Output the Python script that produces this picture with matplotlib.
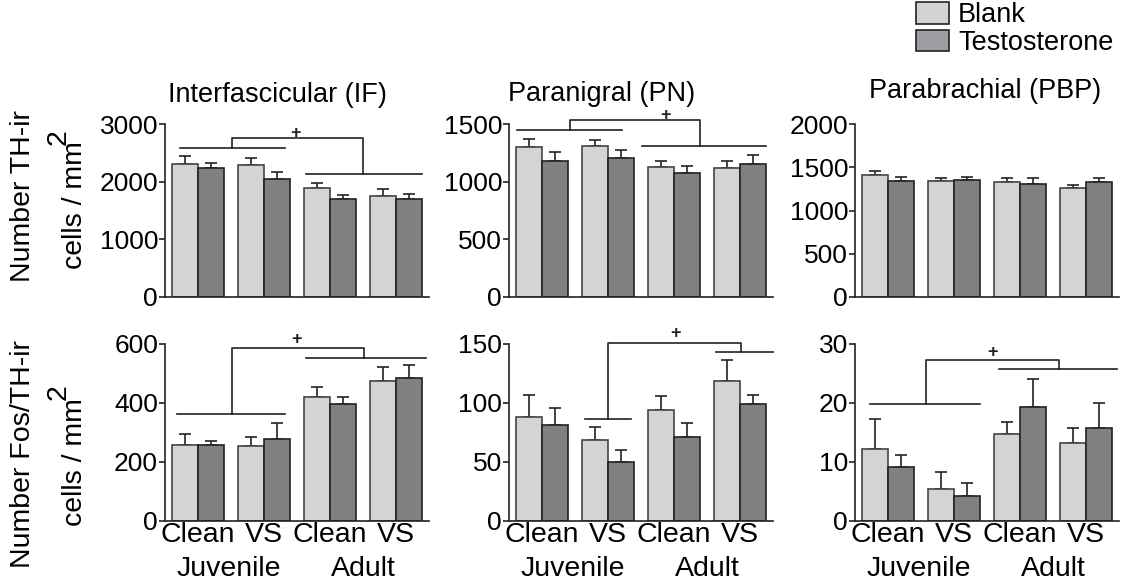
import numpy as np
import matplotlib
matplotlib.use('Agg')
import matplotlib.pyplot as plt
from matplotlib.patches import Patch

plt.rcParams['font.family'] = ['Liberation Sans', 'DejaVu Sans']

groups = ['Clean', 'VS', 'Clean', 'VS']
ages = ['Juvenile', 'Adult']
titles = ['Interfascicular (IF)', 'Paranigral (PN)', 'Parabrachial (PBP)']

# top row: Number TH-ir cells / mm2  (mean, top of error bar)
if_th_blank = [2300, 2290, 1890, 1755]
if_th_blank_err = [2450, 2415, 1980, 1865]
if_th_testo = [2235, 2040, 1705, 1700]
if_th_testo_err = [2330, 2165, 1775, 1790]

pn_th_blank = [1302, 1311, 1130, 1115]
pn_th_blank_err = [1367, 1361, 1180, 1180]
pn_th_testo = [1183, 1201, 1077, 1154]
pn_th_testo_err = [1260, 1272, 1136, 1228]

pbp_th_blank = [1408, 1336, 1328, 1260]
pbp_th_blank_err = [1454, 1374, 1374, 1298]
pbp_th_testo = [1344, 1351, 1309, 1328]
pbp_th_testo_err = [1382, 1393, 1374, 1374]

# bottom row: Number Fos/TH-ir cells / mm2
if_fos_blank = [255, 252, 419, 473]
if_fos_blank_err = [293, 283, 452, 521]
if_fos_testo = [255, 277, 396, 483]
if_fos_testo_err = [269, 331, 418, 527]

pn_fos_blank = [88, 68, 94, 118]
pn_fos_blank_err = [106, 79.5, 105.5, 136]
pn_fos_testo = [81, 49.5, 71, 98.5]
pn_fos_testo_err = [95, 60, 83, 106]

pbp_fos_blank = [12.2, 5.4, 14.6, 13.2]
pbp_fos_blank_err = [17.2, 8.2, 16.7, 15.7]
pbp_fos_testo = [9.1, 4.1, 19.2, 15.6]
pbp_fos_testo_err = [11.1, 6.3, 24.0, 20.0]

top_ticks = [[0, 1000, 2000, 3000], [0, 500, 1000, 1500], [0, 500, 1000, 1500, 2000]]
bot_ticks = [[0, 200, 400, 600], [0, 50, 100, 150], [0, 10, 20, 30]]

# significance brackets: (left line y, x0, x1, x vertical), top y, (right ...), plus (x, y)
if_th_sig = [(2586, -0.27, 1.32, 0.52), 2751, (2130, 1.64, 3.4, 2.5), (1.47, 2840)]
pn_th_sig = [(1450, -0.38, 1.21, 0.43), 1539, (1308, 1.52, 3.4, 2.39), (1.87, 1570)]
if_fos_sig = [(362, -0.32, 1.32, 0.52), 585, (552, 1.63, 3.45, 2.52), (1.5, 615)]
pn_fos_sig = [(86.3, 0.65, 1.35, 1.0), 150.6, (143, 2.64, 3.5, 3.02), (2.02, 158.5)]
pbp_fos_sig = [(19.7, -0.27, 1.39, 0.58), 27.2, (25.6, 1.68, 3.47, 2.59), (1.58, 28.5)]

top_data = [(if_th_blank, if_th_blank_err, if_th_testo, if_th_testo_err, if_th_sig),
            (pn_th_blank, pn_th_blank_err, pn_th_testo, pn_th_testo_err, pn_th_sig),
            (pbp_th_blank, pbp_th_blank_err, pbp_th_testo, pbp_th_testo_err, None)]
bot_data = [(if_fos_blank, if_fos_blank_err, if_fos_testo, if_fos_testo_err, if_fos_sig),
            (pn_fos_blank, pn_fos_blank_err, pn_fos_testo, pn_fos_testo_err, pn_fos_sig),
            (pbp_fos_blank, pbp_fos_blank_err, pbp_fos_testo, pbp_fos_testo_err, pbp_fos_sig)]

c_blank = '#d4d4d4'
c_testo = '#808080'
c_line = '#222222'

W, H = 1125, 586
fig = plt.figure(figsize=(W / 100, H / 100), dpi=100)

lefts = [165, 509, 855]
pw = 264


def draw_panel(ax, blank, blank_err, testo, testo_err, sig, ticks):
    x = np.arange(len(groups))
    w = 0.395
    blank = np.array(blank)
    testo = np.array(testo)
    ax.bar(x - w / 2, blank, w, color=c_blank, edgecolor='#444444', linewidth=1.2, zorder=2)
    ax.bar(x + w / 2, testo, w, color=c_testo, edgecolor=c_line, linewidth=1.2, zorder=2)
    ax.errorbar(x - w / 2, blank, yerr=[np.zeros(4), np.array(blank_err) - blank],
                fmt='none', ecolor=c_line, elinewidth=1.2, capsize=4.5, capthick=1.2, zorder=1)
    ax.errorbar(x + w / 2, testo, yerr=[np.zeros(4), np.array(testo_err) - testo],
                fmt='none', ecolor=c_line, elinewidth=1.2, capsize=4.5, capthick=1.2, zorder=1)
    ax.set_xlim(-0.5, 3.5)
    ax.set_ylim(0, ticks[-1])
    ax.set_yticks(ticks)
    ax.spines[['top', 'right']].set_visible(False)
    ax.spines[['left', 'bottom']].set_linewidth(1.2)
    ax.spines[['left', 'bottom']].set_color(c_line)
    ax.tick_params(axis='y', labelsize=19, length=4, width=1.2, pad=1, color=c_line)
    ax.tick_params(axis='x', length=0)
    ax.set_xticks([])
    if sig is not None:
        (ly, lx0, lx1, lxv), ty, (ry, rx0, rx1, rxv), (px, py) = sig
        kw = dict(color=c_line, lw=1.2, clip_on=False, zorder=3)
        ax.plot([lx0, lx1], [ly, ly], **kw)
        ax.plot([rx0, rx1], [ry, ry], **kw)
        ax.plot([lxv, lxv, rxv, rxv], [ly, ty, ty, ry], **kw)
        ax.text(px, py, '+', ha='center', va='center', fontsize=13, fontweight='bold',
                color=c_line, clip_on=False)


for i in range(3):
    ax = fig.add_axes([lefts[i] / W, 1 - 297 / H, pw / W, 173 / H])
    b, be, t, te, s = top_data[i]
    draw_panel(ax, b, be, t, te, s, top_ticks[i])

    ax2 = fig.add_axes([lefts[i] / W, 1 - 520.5 / H, pw / W, 177 / H])
    b, be, t, te, s = bot_data[i]
    draw_panel(ax2, b, be, t, te, s, bot_ticks[i])
    ax2.set_xticks(np.arange(4))
    ax2.set_xticklabels(groups, fontsize=20.5)
    ax2.tick_params(axis='x', length=0, pad=1)
    for xa, age in zip([0.46, 2.5], ages):
        ax2.annotate(age, xy=(xa, 0), xycoords=('data', 'axes fraction'),
                     xytext=(0, -35), textcoords='offset points',
                     ha='center', va='center', fontsize=20.5)

# panel titles
title_x = [277, 602, 985]
title_y = [95, 94, 91]
for tx, ty, tt in zip(title_x, title_y, titles):
    fig.text(tx / W, 1 - ty / H, tt, ha='center', va='center', fontsize=19.5)

# y labels
fig.text(23 / W, 1 - 196 / H, 'Number TH-ir', rotation=90, ha='center', va='center', fontsize=20.5)
fig.text(75 / W, 1 - 205 / H, 'cells / mm', rotation=90, ha='center', va='center', fontsize=20.5)
fig.text(59 / W, 1 - 137 / H, '2', rotation=90, ha='center', va='center', fontsize=20.5)
fig.text(23 / W, 1 - 454 / H, 'Number Fos/TH-ir', rotation=90, ha='center', va='center', fontsize=20.5)
fig.text(75 / W, 1 - 462 / H, 'cells / mm', rotation=90, ha='center', va='center', fontsize=20.5)
fig.text(59 / W, 1 - 392 / H, '2', rotation=90, ha='center', va='center', fontsize=20.5)

# legend
legend_elements = [Patch(facecolor='#d3d3d3', edgecolor=c_line, linewidth=1.2, label='Blank'),
                   Patch(facecolor='#9e9ea2', edgecolor=c_line, linewidth=1.2, label='Testosterone')]
fig.legend(handles=legend_elements, loc='upper left', bbox_to_anchor=(916 / W, 1 - 2 / H),
           frameon=False, fontsize=19.5, borderpad=0, borderaxespad=0,
           handlelength=1.2, handleheight=0.85, handletextpad=0.35, labelspacing=0.05)

fig.savefig('out.png', dpi=100)
